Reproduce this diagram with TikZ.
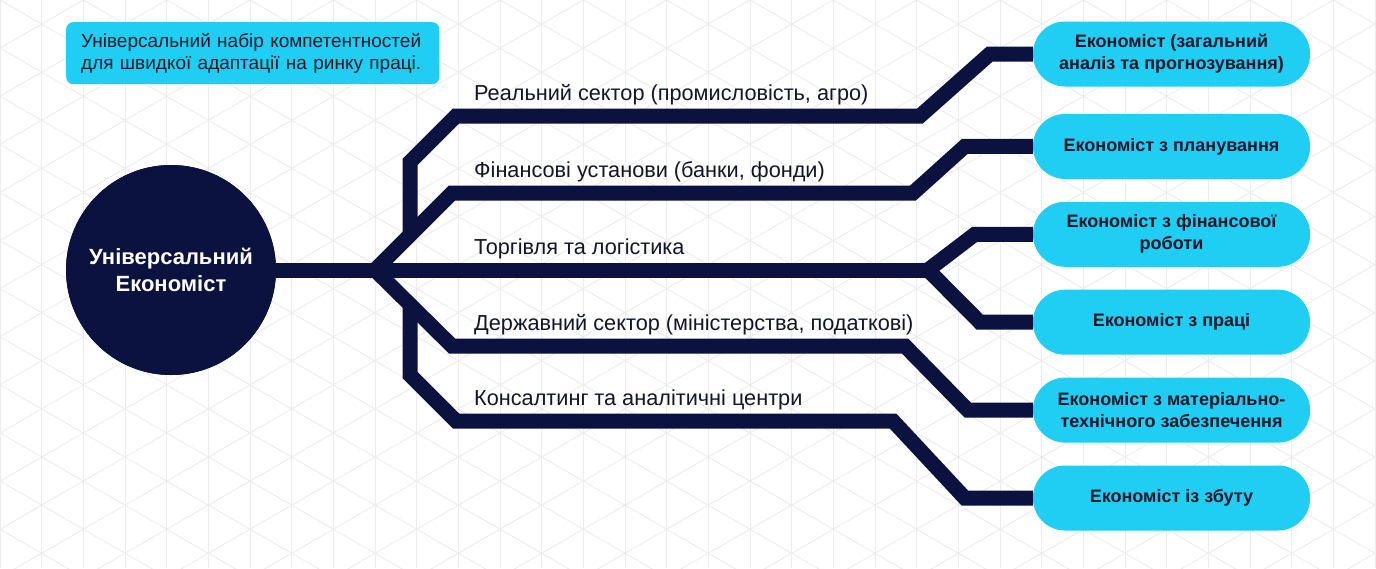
\documentclass[tikz,border=0pt]{standalone}
\usepackage{fontspec}
\setmainfont{Liberation Sans}
\usepackage{tikz}
\usetikzlibrary{positioning, calc}
\definecolor{navy}{RGB}{11,18,64}
\definecolor{skyblue}{RGB}{32,206,244}
\definecolor{gridgray}{RGB}{236,236,238}
\definecolor{inkdark}{RGB}{17,22,40}

\begin{document}
\begin{tikzpicture}[x=1pt, y=-1pt, node distance=22.5pt, font=\fontsize{21.7}{25}\selectfont]
    \tikzstyle{role}=[rectangle, fill=skyblue, rounded corners=32pt, minimum width=277pt, minimum height=65pt, align=center, inner sep=2pt, text=inkdark, font=\fontsize{18}{22}\selectfont\bfseries]
    \tikzstyle{track}=[draw=navy, line width=15pt, line join=miter]
    \tikzstyle{sector}=[anchor=base west, inner sep=0pt, text=inkdark]
    \tikzstyle{note}=[rectangle, fill=skyblue, rounded corners=7pt, minimum width=373pt, minimum height=62pt, text width=343pt, align=left, inner sep=0pt, text=inkdark, font=\fontsize{19}{22}\selectfont]
    \tikzstyle{hub}=[circle, fill=navy, minimum size=210pt, align=center, text=white, font=\fontsize{22}{27}\selectfont\bfseries]

    \useasboundingbox (0,0) rectangle (1376,568);
    \fill[white] (0,0) rectangle (1376,568);
    \begin{scope}
      \clip (0,0) rectangle (1376,568);
      \foreach \i in {0,...,33}
        \draw[gridgray, line width=0.9pt] (\i*41.67,0) -- (\i*41.67,568);
      \foreach \c in {-17,...,29} {
        \draw[gridgray, line width=0.9pt] (0,\c*48.11) -- (1376,\c*48.11+794.4);
        \draw[gridgray, line width=0.9pt] (0,\c*48.11) -- (1376,\c*48.11-794.4);
      }
    \end{scope}

    \node[note, anchor=north west] (note) at (66,22) {Універсальний набір компетентностей\\для швидкої адаптації на ринку праці.};

    \node[role] (e1) at (1171.5,54) {Економіст (загальний\\аналіз та прогнозування)};
    \node[role, below=27pt of e1] (e2) {Економіст з планування};
    \node[role, below=of e2] (e3) {Економіст з фінансової\\роботи};
    \node[role, below=of e3] (e4) {Економіст з праці};
    \node[role, below=of e4] (e5) {Економіст з матеріально-\\технічного забезпечення};
    \node[role, below=of e5] (e6) {Економіст із збуту};

    \coordinate (fork) at (375,270);
    \coordinate (fork2) at (928,270);
    \node[hub] (hub) at (171,270) {Універсальний\\Економіст};

    \draw[track] (hub) -- (fork) -- (fork2);
    \draw[track] (fork2) -- ($(e3.west)+(-58,0)$) -- (e3.west);
    \draw[track] (fork2) -- ($(e4.west)+(-53,0)$) -- (e4.west);
    \draw[track] ($(fork)+(35,-35)$) -- (410,162) -- (456,116) -- (920,116) -- ($(e1.west)+(-43,0)$) -- (e1.west);
    \draw[track] (fork) -- ++(77,-77) -- (913,193) -- ($(e2.west)+(-68,0)$) -- (e2.west);
    \draw[track] (fork) -- ++(77,76) -- (905,346) -- ($(e5.west)+(-65,0)$) -- (e5.west);
    \draw[track] ($(fork)+(35,35)$) -- (410,375) -- (456,421) -- (893,421) -- ($(e6.west)+(-68,0)$) -- (e6.west);
    \node[hub] at (hub) {Універсальний\\Економіст};

    \node[sector] (s1) at (474,100) {Реальний сектор (промисловість, агро)};
    \node[sector] (s2) at (474,177) {Фінансові установи (банки, фонди)};
    \node[sector] (s3) at (474,254) {Торгівля та логістика};
    \node[sector] (s4) at (474,330) {Державний сектор (міністерства, податкові)};
    \node[sector] (s5) at (474,405) {Консалтинг та аналітичні центри};
  \end{tikzpicture}
\end{document}
